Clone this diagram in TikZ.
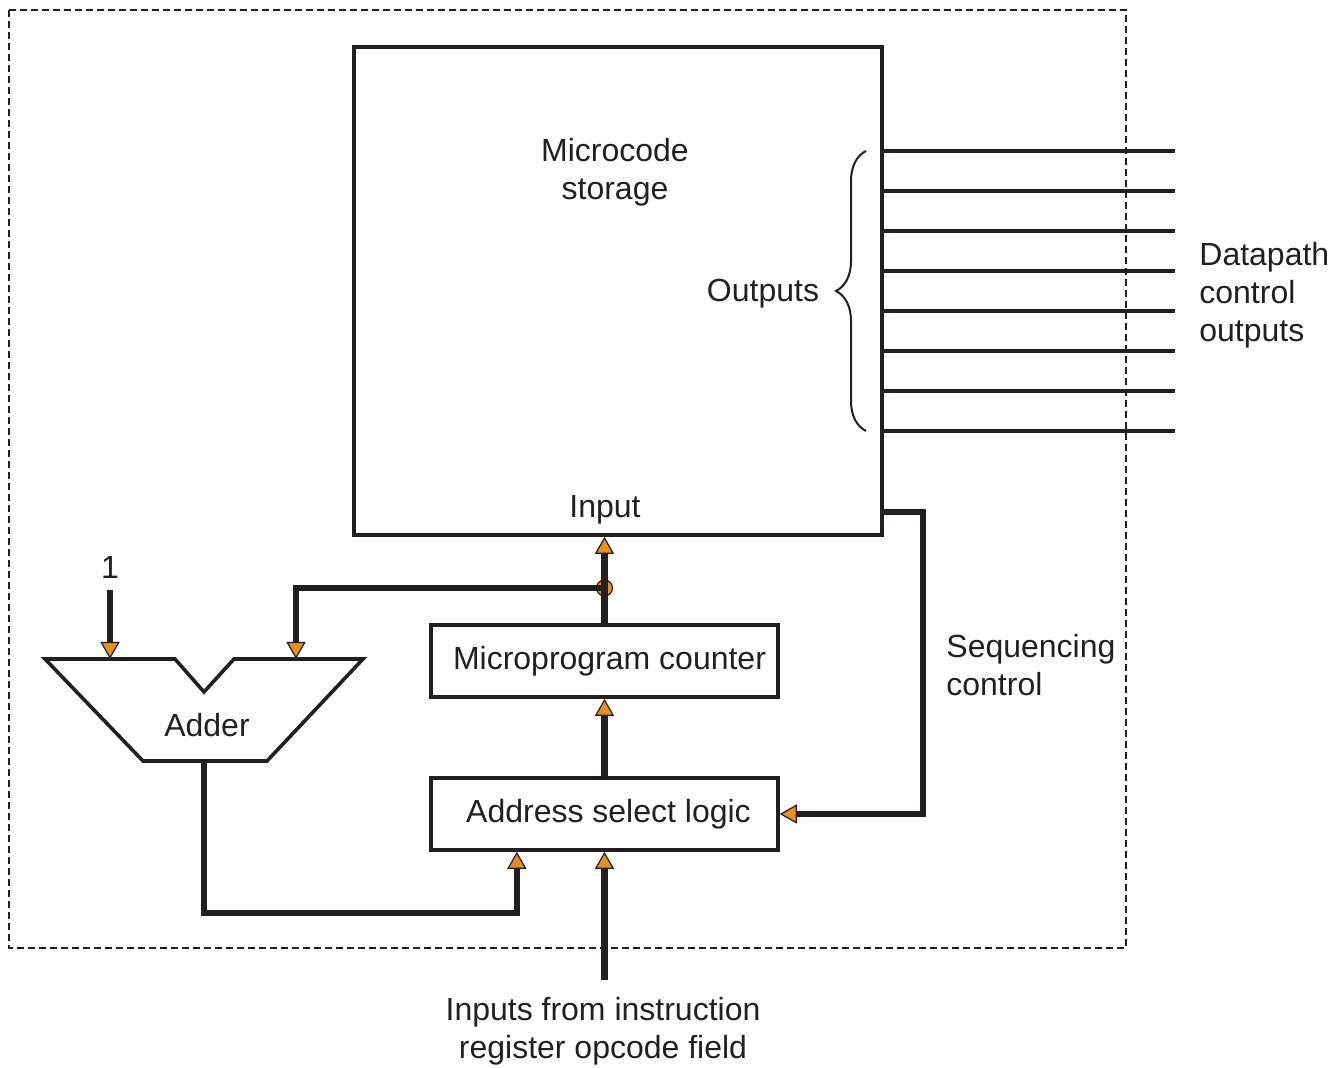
\documentclass[tikz,border=0pt]{standalone}
\usepackage{fontspec}
\setmainfont{Liberation Sans}
\usepackage{tikz}
\usetikzlibrary{positioning,calc,arrows.meta,decorations.pathreplacing}
\usepackage{xcolor}
\definecolor{ink}{HTML}{231F20}
\definecolor{tipfill}{HTML}{E8901E}

\tikzset{
  lbl/.style={font=\fontsize{16}{19}\selectfont,text=ink,inner sep=0pt},
  box/.style={lbl,draw=ink,line width=1.8pt,minimum width=173.5pt,minimum height=36pt},
  wire/.style={draw=ink,line width=3.2pt},
  bus/.style={draw=ink,line width=2pt},
  tip/.style={-{Triangle[length=8.5pt,width=9.5pt,color=ink,fill=tipfill,line width=0.6pt]}},
}

\begin{document}
\begin{tikzpicture}[x=0.5pt,y=-0.5pt]
\useasboundingbox (0,0) rectangle (1335,1068);
% control unit boundary
\draw[ink,line width=0.6pt,dash pattern=on 3.5pt off 2pt] (9,10) rectangle (1126,948);

% microcode storage and its outputs
\node (mcs) at (618,291) [box,minimum width=264pt,minimum height=244pt] {};
\node at (615,172) [lbl,align=center] {Microcode\\storage};
\node at (605,510) [lbl] {Input};
\foreach \y in {151,191,...,431} {
    \draw[bus] (mcs.east |- 0,\y) -- (1175,\y);
}
\draw[ink,line width=1pt,decorate,decoration={brace,amplitude=15pt}] (866,431) -- (866,151);
\node at (763,294) [lbl] {Outputs};
\node at (1199,295) [lbl,anchor=west,align=left] {Datapath\\control\\outputs};

% sequencer
\node (mpc) at (604.5,661) [box] {\hspace*{5pt}Microprogram counter};
\node (asl) at (604.5,814) [box] {\hspace*{4pt}Address select logic};
\coordinate (jn) at (mpc.north |- 0,588);
\node (dot) at (jn) [circle,draw=ink,fill=tipfill,line width=0.6pt,minimum size=8pt,inner sep=0pt] {};
\draw[wire,tip] (asl.north) -- (mpc.south);
\draw[wire,tip] (mpc.north) -- (mcs.south -| mpc.north);

% adder
\coordinate (addin1) at (110,659);
\coordinate (addin2) at (296,659);
\coordinate (addout) at (204,761);
\draw[ink,line width=1.8pt,line join=miter] (45,659) -- (175,659) -- (204,692) -- (234,659) -- (363,659) -- (267,761) -- (143,761) -- cycle;
\node (add) at (207,725) [lbl] {Adder};
\node (one) at (110,567) [lbl] {1};
\draw[wire,tip] ([yshift=-6pt]one.south) -- (addin1);
\draw[wire,tip] (jn) -| (addin2);
\draw[wire,tip] (addout) -- ++(0,152) -| ($(asl.south west)!0.25!(asl.south east)$);

% opcode input
\coordinate (opc) at (604.5,980);
\draw[wire,tip] (opc) -- (asl.south);
\node at (603,1031) [lbl,align=center] {Inputs from instruction\\register opcode field};

% sequencing control
\draw[wire,tip] (mcs.east |- 0,512) -- ++(39,0) |- (asl.east);
\node at (946,665) [lbl,anchor=west,align=left] {Sequencing\\control};
\end{tikzpicture}
\end{document}
